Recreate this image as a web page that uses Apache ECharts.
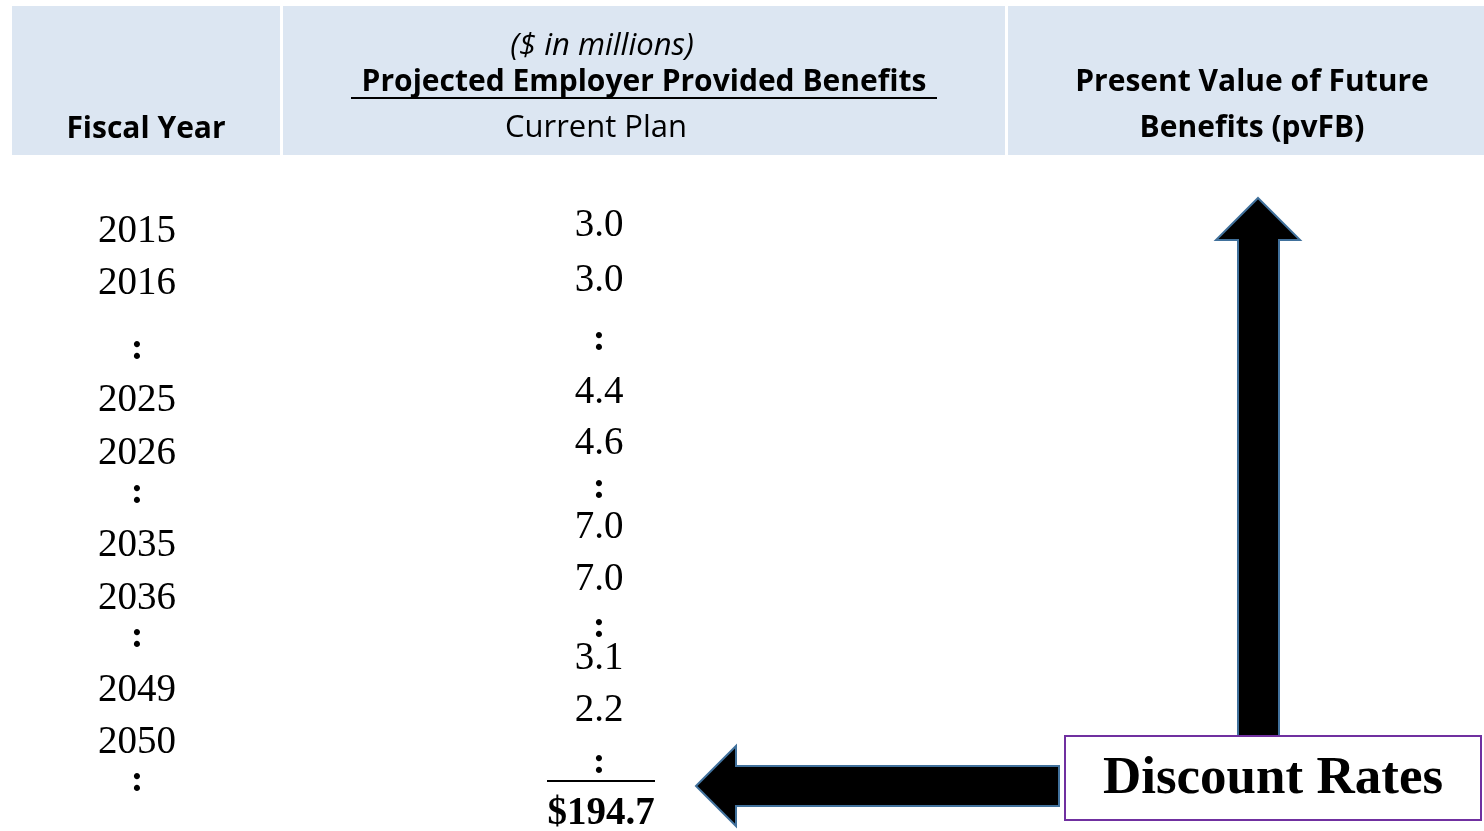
<!DOCTYPE html>
<html>
<head>
<meta charset="utf-8">
<script src="https://cdn.jsdelivr.net/npm/echarts@6/dist/echarts.min.js"></script>
<style>
  html, body { margin: 0; padding: 0; background: #fff; }
  #main { width: 1484px; height: 831px; }
</style>
</head>
<body>
<div id="main"></div>
<script>
// table content
const headers = ['Fiscal Year', '($ in millions)', 'Projected Employer Provided Benefits', 'Current Plan',
  'Present Value of Future', 'Benefits (pvFB)'];
const fiscalYears = ['2015', '2016', ':', '2025', '2026', ':', '2035', '2036', ':', '2049', '2050', ':'];
const benefits = ['3.0', '3.0', ':', '4.4', '4.6', ':', '7.0', '7.0', ':', '3.1', '2.2', ':'];
const totalBenefits = '$194.7';
const boxLabel = 'Discount Rates';

// layout (row centres in px)
const yearRowY = [232, 284, 349, 401, 454, 493, 546, 599, 637, 691, 743, 781];
const benefitRowY = [226, 281, 340, 393, 444, 488, 528, 580, 627, 659, 711, 763];
const yearX = 137, benefitX = 599;

const serif = '"Liberation Serif", "DejaVu Serif", serif';
const sans = '"Open Sans", "Noto Sans", sans-serif';
const headBg = '#DCE6F2';
const arrowLine = '#41719C';

let els = [];

// header cells
[[12, 268], [283, 722], [1008, 476]].forEach(function (c) {
  els.push({ type: 'rect', shape: { x: c[0], y: 6, width: c[1], height: 149 }, style: { fill: headBg } });
});

function txt(s, x, y, font) {
  return {
    type: 'text',
    style: { text: s, x: x, y: y, font: font, fill: '#000', align: 'center', verticalAlign: 'middle' }
  };
}

els.push(txt(headers[0], 146, 129, 'bold 30px ' + sans));
els.push(txt(headers[1], 602, 46, 'italic 31px ' + sans));
els.push(txt(headers[2], 644, 82, 'bold 30px ' + sans));
els.push({ type: 'line', shape: { x1: 351, y1: 98, x2: 937, y2: 98 }, style: { stroke: '#000', lineWidth: 2 } });
els.push(txt(headers[3], 596, 128, '31px ' + sans));
els.push(txt(headers[4], 1252, 82, 'bold 30px ' + sans));
els.push(txt(headers[5], 1252, 128, 'bold 30px ' + sans));

// fiscal year column
fiscalYears.forEach(function (s, i) {
  const f = s === ':' ? 'bold 38px ' + serif : '39px ' + serif;
  els.push(txt(s, yearX, yearRowY[i], f));
});

// benefits column
benefits.forEach(function (s, i) {
  const f = s === ':' ? 'bold 38px ' + serif : '39px ' + serif;
  els.push(txt(s, benefitX, benefitRowY[i], f));
});
els.push({ type: 'line', shape: { x1: 547, y1: 781, x2: 655, y2: 781 }, style: { stroke: '#000', lineWidth: 2 } });
els.push(txt(totalBenefits, 601, 814, 'bold 39px ' + serif));

// up arrow
els.push({
  type: 'polygon',
  shape: { points: [[1258, 198], [1300, 240], [1279, 240], [1279, 737], [1238, 737], [1238, 240], [1216, 240]] },
  style: { fill: '#000', stroke: arrowLine, lineWidth: 2 }
});
// left arrow
els.push({
  type: 'polygon',
  shape: { points: [[696, 786], [736, 746], [736, 766], [1059, 766], [1059, 806], [736, 806], [736, 826]] },
  style: { fill: '#000', stroke: arrowLine, lineWidth: 2 }
});
// discount rates box
els.push({ type: 'rect', shape: { x: 1065, y: 736, width: 416, height: 84 }, style: { fill: '#fff', stroke: '#7030A0', lineWidth: 2 } });
els.push(txt(boxLabel, 1273, 779, 'bold 53px ' + serif));

const chart = echarts.init(document.getElementById('main'));
chart.setOption({
  backgroundColor: '#fff',
  animation: false,
  graphic: { elements: els }
});
</script>
</body>
</html>
